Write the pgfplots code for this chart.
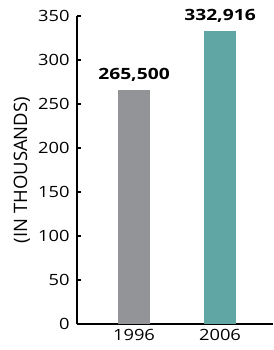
\documentclass[border=0pt]{standalone}
\usepackage{pgfplots}
\pgfplotsset{compat=1.18}
\usepackage{fontspec}
\setmainfont{Open Sans}
\newfontfamily\widefont[FakeStretch=1.18]{Open Sans}
\newfontfamily\widebold[FakeStretch=1.24]{Open Sans Bold}
\definecolor{bargray}{RGB}{147,148,152}
\definecolor{barteal}{RGB}{96,166,164}
\begin{document}
\begin{tikzpicture}
\path[use as bounding box] (-77pt,-26pt) rectangle (196pt,324pt);
\begin{axis}[
  at={(0pt,0pt)}, anchor=south west,
  scale only axis, width=196pt, height=308pt,
  xmin=-0.663, xmax=1.616, ymin=0, ymax=350,
  axis x line*=bottom, axis y line*=left,
  axis line style={line width=1.3pt, -},
  xtick={0,1}, xticklabels={1996,2006},
  xtick style={draw=none},
  ytick={0,50,...,350},
  ytick style={line width=1.2pt, black},
  tick align=inside, major tick length=4pt,
  yticklabel style={font=\widefont\fontsize{15.5}{17}\selectfont, xshift=-4pt},
  xticklabel style={font=\widefont\fontsize{15.5}{17}\selectfont, yshift=-2pt},
  /pgf/number format/assume math mode=true,
  ylabel={(IN THOUSANDS)},
  every axis y label/.style={at={(axis description cs:0,0.5)}, xshift=-55pt, rotate=90, font=\fontsize{18.5}{20}\selectfont},
  clip=false,
]
\addplot[ybar, bar width=32pt, fill=bargray, draw=none] coordinates {(0,265.5)};
\addplot[ybar, bar width=32pt, fill=barteal, draw=none] coordinates {(1,332.916)};
\node[font=\widebold\fontsize{15.5}{17}\selectfont, anchor=base] at (axis cs:0,265.5) [yshift=11pt] {265,500};
\node[font=\widebold\fontsize{15.5}{17}\selectfont, anchor=base] at (axis cs:1,332.916) [yshift=11pt] {332,916};
\end{axis}
\end{tikzpicture}
\end{document}
